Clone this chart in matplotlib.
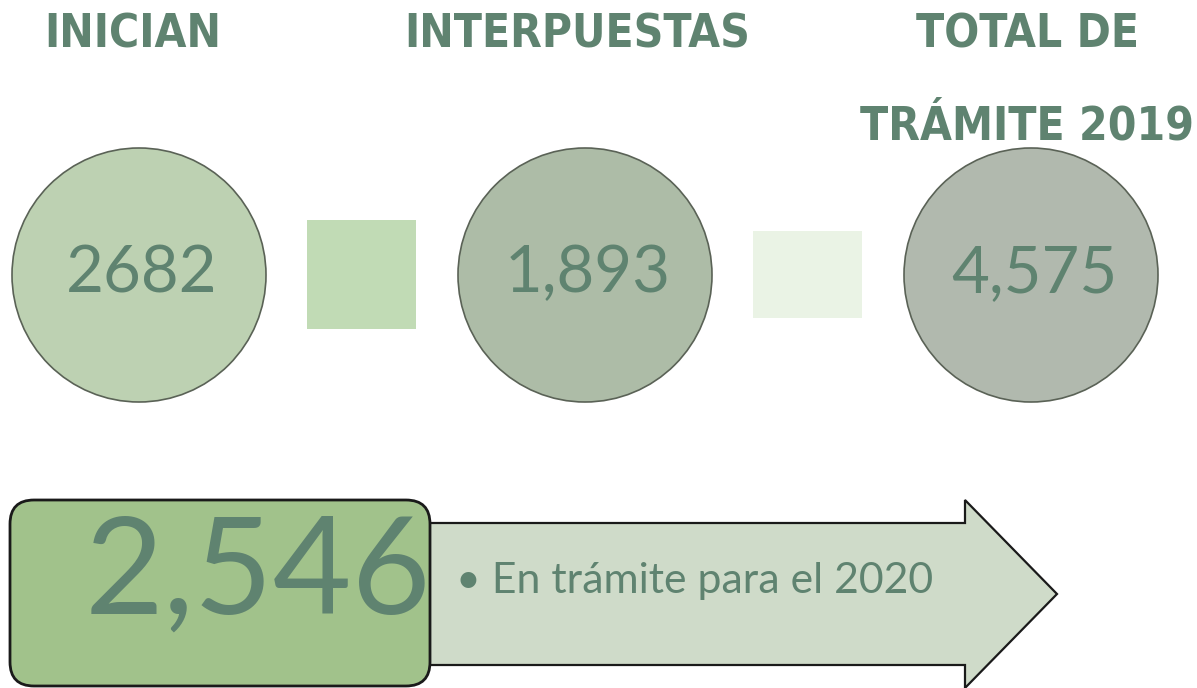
import matplotlib.pyplot as plt
from matplotlib.patches import Circle, Rectangle, FancyBboxPatch, Polygon
from matplotlib import font_manager

# data
headings = ["INICIAN", "INTERPUESTAS", "TOTAL DE\n\nTRÁMITE 2019"]
values = ["2682", "1,893", "4,575"]
circle_colors = ["#bdd1b2", "#adbca7", "#b1b9ae"]
pending_value = "2,546"
pending_label = "• En trámite para el 2020"

green = "#5f8370"

# look for a narrow bold face for the headings
head_prop = None
for f in font_manager.fontManager.ttflist:
    low = (f.name + " " + f.fname).lower()
    if ("narrow" in low or "condensed" in low) and f.weight in ("bold", 700):
        head_prop = font_manager.FontProperties(fname=f.fname)
        break
if head_prop is None:
    head_prop = font_manager.FontProperties(family="Lato", weight="bold")

fig = plt.figure(figsize=(11.97, 6.88), dpi=100)
ax = fig.add_axes([0, 0, 1, 1])
ax.set_xlim(0, 1197)
ax.set_ylim(688, 0)
ax.axis("off")

# top headings
head_x = [133, 577, 1027]
for x, h in zip(head_x, headings):
    ax.text(x, 12, h, ha="center", va="top", fontsize=33, fontproperties=head_prop,
            color=green, linespacing=1.03)

# circles with numbers
cx = [139, 585, 1031]
for x, v, c in zip(cx, values, circle_colors):
    ax.add_patch(Circle((x, 275), 127, facecolor=c, edgecolor="#5a6256", lw=1.2))
    ax.text(x + 3, 274, v, ha="center", va="center", fontsize=47, family="Lato", color=green)

# connector squares
ax.add_patch(Rectangle((307, 220), 109, 109, facecolor="#c1dbb5", edgecolor="none"))
ax.add_patch(Rectangle((753, 231), 109, 87, facecolor="#eaf3e5", edgecolor="none"))

# arrow
arrow = [(420, 523), (965, 523), (965, 500), (1057, 594), (965, 688),
         (965, 665), (420, 665)]
ax.add_patch(Polygon(arrow, closed=True, facecolor="#cfdbc9", edgecolor="#1a1a1a", lw=1.6))
ax.text(456, 581, pending_label, ha="left", va="center", fontsize=30.8,
        family="Lato", color=green)

# rounded box
ax.add_patch(FancyBboxPatch((10, 500), 420, 186, boxstyle="round,pad=0,rounding_size=24",
                            facecolor="#a1c28b", edgecolor="#1a1a1a", lw=2))
ax.text(258, 575, pending_value, ha="center", va="center", fontsize=98,
        family="Lato", color=green)

fig.savefig("out.png", dpi=100)
